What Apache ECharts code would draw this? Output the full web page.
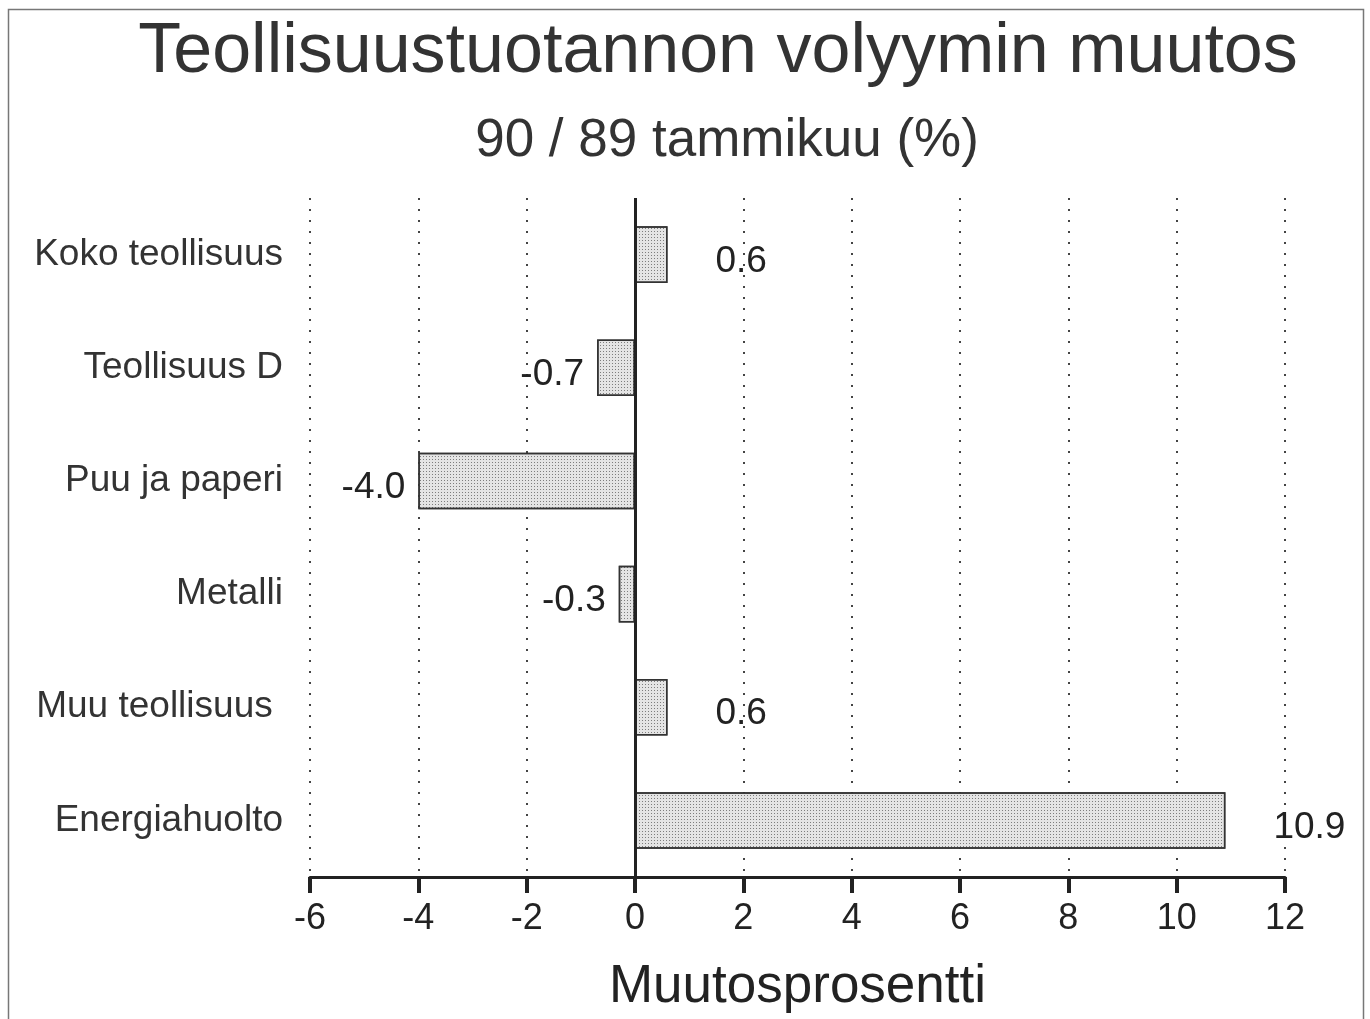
<!DOCTYPE html>
<html><head><meta charset="utf-8">
<script src="https://cdn.jsdelivr.net/npm/echarts@6/dist/echarts.min.js"></script>
<style>html,body{margin:0;padding:0;background:#fff}#c{width:1370px;height:1019px}</style>
</head><body><div id="c"></div>
<script>
const categories = ['Koko teollisuus','Teollisuus D','Puu ja paperi','Metalli','Muu teollisuus ','Energiahuolto'];
const values = [0.6, -0.7, -4.0, -0.3, 0.6, 10.9];
const xTicks = [-6,-4,-2,0,2,4,6,8,10,12];

const FONT = '"Liberation Sans", Arial, Helvetica, sans-serif';
const chart = echarts.init(document.getElementById('c'));
chart.setOption({
  animation:false,
  backgroundColor:'#fff',
  textStyle:{fontFamily:FONT},
  title:[
    {text:'Teollisuustuotannon volyymin muutos', left:713, top:13, textAlign:'center',
     textStyle:{fontFamily:FONT,fontSize:70,fontWeight:'normal',color:'#333'}},
    {text:'90 / 89 tammikuu (%)', left:722, top:110, textAlign:'center',
     textStyle:{fontFamily:FONT,fontSize:53,fontWeight:'normal',color:'#333'}}
  ],
  graphic:[{type:'rect',shape:{x:8.5,y:9.5,width:1355,height:1030},style:{fill:'none',stroke:'#777',lineWidth:1.5},silent:true}],
  grid:{left:310,right:85,top:198,bottom:141,containLabel:false},
  xAxis:{type:'value',min:-6,max:12,interval:2,
    name:'Muutosprosentti',nameLocation:'middle',nameGap:84,
    nameTextStyle:{fontFamily:FONT,fontSize:53,color:'#222'},
    axisLine:{show:true,onZero:false,lineStyle:{color:'#222',width:3}},
    axisTick:{show:true,length:16,lineStyle:{color:'#222',width:4}},
    axisLabel:{fontFamily:FONT,fontSize:36,color:'#222',margin:24,
      formatter:v=>xTicks.includes(v)?String(v):''},
    splitLine:{show:true,lineStyle:{color:'#444',type:[2,9],width:2}}
  },
  yAxis:{type:'category',data:categories,inverse:true,
    axisLine:{show:false},axisTick:{show:false},
    axisLabel:{fontFamily:FONT,fontSize:37,color:'#333',margin:27},
    splitLine:{show:false}
  },
  series:[{type:'bar',barWidth:'50%',
    data:values.map(v=>({value:v,label:{position:v>=0?'right':'left',distance:v>=0?48:13}})),
    itemStyle:{color:'#e4e4e4',borderColor:'#333',borderWidth:1.5,
      decal:{symbol:'rect',symbolSize:1,dashArrayX:[1,2],dashArrayY:[1,2],color:'rgba(0,0,0,0.45)'}},
    label:{show:true,fontFamily:FONT,fontSize:37,color:'#222',offset:[0,7],
      formatter:p=>p.value.toFixed(1)},
    markLine:{silent:true,symbol:'none',label:{show:false},
      lineStyle:{color:'#222',width:3,type:'solid'},data:[{xAxis:0}]}
  }]
});
</script></body></html>
